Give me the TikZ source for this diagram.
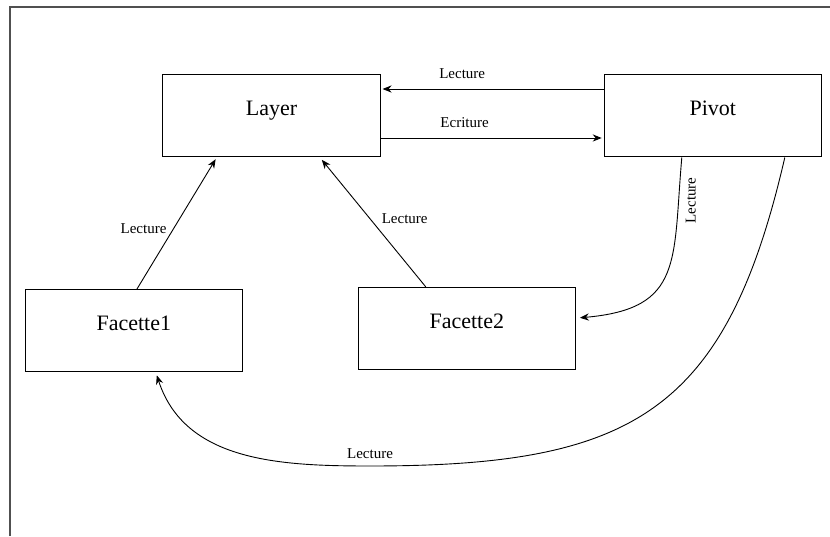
\documentclass[tikz,border=0pt]{standalone}
\usepackage{fontspec}
\setmainfont{Liberation Serif}
\usetikzlibrary{arrows.meta}
\definecolor{framegray}{RGB}{80,80,80}

\begin{document}
\begin{tikzpicture}[x=.5pt,y=.5pt,
  box/.style={draw, line width=.5pt, minimum width=108.6pt, minimum height=41pt,
    text height=0pt, text depth=0pt, font=\rmfamily\fontsize{11}{13}\selectfont},
  lbl/.style={font=\rmfamily\fontsize{7.5}{9}\selectfont},
  arr/.style={line width=.45pt, -{Stealth[length=4.5pt,width=3.6pt]}}]
  \useasboundingbox (0,0) rectangle (830,536);
  \draw[framegray, line width=.8pt] (10,0) -- (10,529) -- (830,529);
  \node[box] (layer) at (271.5,420) {Layer};
  \node[box] (pivot) at (712.8,420) {Pivot};
  \node[box] (facette1) at (133.8,205.2) {Facette1};
  \node[box] (facette2) at (466.8,207.6) {Facette2};
  \coordinate (bas) at (370,70);
  \draw[arr] ([yshift=13.5pt]pivot.west) -- ([yshift=13.5pt,xshift=1pt]layer.east) node[lbl,pos=.64,above=1.5pt] {Lecture};
  \draw[arr] ([yshift=-11pt]layer.east) -- ([yshift=-11pt,xshift=-1pt]pivot.west) node[lbl,pos=.38,above=1.5pt] {Ecriture};
  \draw[arr, shorten >=1pt] ([xshift=1.5pt]facette1.north) -- ([xshift=-27.4pt]layer.south) node[lbl,pos=.46,left] {Lecture};
  \draw[arr, shorten >=1.5pt] ([xshift=-20.5pt]facette2.north) -- ([xshift=24.2pt]layer.south) node[lbl,pos=.53,right=2.5pt] {Lecture};
  \draw[arr] ([xshift=-15.5pt]pivot.south) to[out=-95,in=5,looseness=1.4] node[lbl,pos=.15,anchor=north,rotate=90] {Lecture} ([yshift=5.3pt,xshift=2pt]facette2.east);
  \draw[arr] ([xshift=36pt]pivot.south) to[out=-103,in=0,looseness=1.3] (bas) node[lbl,above] {Lecture} to[out=180,in=-72] ([xshift=11.5pt,yshift=-1.5pt]facette1.south);
\end{tikzpicture}
\end{document}
